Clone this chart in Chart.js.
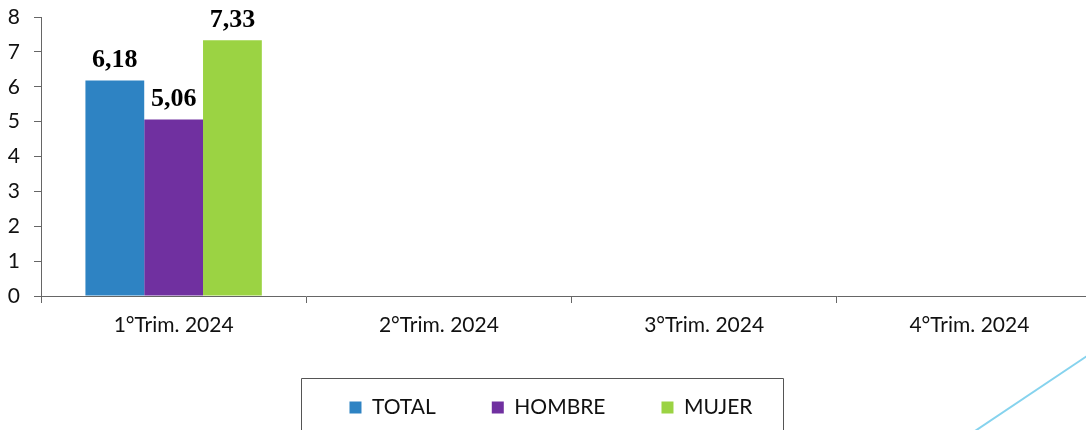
<!DOCTYPE html>
<html>
<head>
<meta charset="utf-8">
<script src="https://cdn.jsdelivr.net/npm/chart.js@4"></script>
<style>
    html, body { margin: 0; padding: 0; background: #fff; overflow: hidden; }
    #wrap { width: 1086px; height: 430px; overflow: hidden; }
</style>
</head>
<body>
<div id="wrap"><canvas id="tasa_chart" width="1102" height="430"></canvas></div>
<script>
// data
const trimestres = ['1°Trim. 2024', '2°Trim. 2024', '3°Trim. 2024', '4°Trim. 2024'];
const total = [6.18, null, null, null];
const hombre = [5.06, null, null, null];
const mujer = [7.33, null, null, null];
const y_ticks = [0, 1, 2, 3, 4, 5, 6, 7, 8];

const base_font = 'Lato, "Open Sans", sans-serif';

// values on top of the bars, comma as decimal mark
const bar_values_plugin = {
    id: 'bar_values',
    afterDatasetsDraw(chart) {
        let ctx = chart.ctx;
        ctx.save();
        ctx.font = 'bold 26px "Liberation Serif", "Times New Roman", serif';
        ctx.fillStyle = '#000';
        ctx.textAlign = 'center';
        ctx.textBaseline = 'bottom';
        chart.data.datasets.forEach(function (ds, i) {
            let meta = chart.getDatasetMeta(i);
            meta.data.forEach(function (bar, j) {
                let v = ds.data[j];
                if (v === null) return;
                ctx.fillText(v.toFixed(2).replace('.', ','), bar.x, bar.y - 7);
            });
        });
        ctx.restore();
    }
};

// frame round the legend + the light blue slide decoration
const frame_plugin = {
    id: 'frame',
    afterDraw(chart) {
        let ctx = chart.ctx;
        let lg = chart.legend;
        ctx.save();
        if (lg && lg.legendHitBoxes.length) {
            let first = lg.legendHitBoxes[0];
            let last = lg.legendHitBoxes[lg.legendHitBoxes.length - 1];
            let x0 = Math.round(first.left - 48);
            let x1 = Math.round(last.left + last.width + 30);
            ctx.strokeStyle = '#555';
            ctx.lineWidth = 1;
            ctx.beginPath();
            ctx.moveTo(x0 + 0.5, 440);
            ctx.lineTo(x0 + 0.5, 378.5);
            ctx.lineTo(x1 + 0.5, 378.5);
            ctx.lineTo(x1 + 0.5, 440);
            ctx.stroke();
        }
        ctx.strokeStyle = '#86d3ee';
        ctx.lineWidth = 2;
        ctx.beginPath();
        ctx.moveTo(975, 431);
        ctx.lineTo(1090, 354);
        ctx.stroke();
        ctx.restore();
    }
};

var tasa_ctx = document.getElementById('tasa_chart').getContext('2d');
var tasa_chart = new Chart(tasa_ctx, {
    type: 'bar',
    data: {
        labels: trimestres,
        datasets: [
            { label: 'TOTAL', data: total, backgroundColor: '#2e83c3' },
            { label: 'HOMBRE', data: hombre, backgroundColor: '#7030a0' },
            { label: 'MUJER', data: mujer, backgroundColor: '#9bd343' },
        ]
    },
    plugins: [bar_values_plugin, frame_plugin],
    options: {
        responsive: false,
        animation: false,
        layout: {
            padding: { top: 17, bottom: 2, left: 0, right: 0 },
        },
        datasets: {
            bar: {
                barPercentage: 1.0,
                categoryPercentage: 0.665,
            }
        },
        scales: {
            x: {
                grid: {
                    display: true,
                    drawOnChartArea: false,
                    tickLength: 7,
                    color: '#666',
                },
                border: { color: '#666', width: 1 },
                ticks: {
                    color: '#111',
                    padding: 10,
                    font: { family: base_font, size: 21 },
                },
                afterFit(scale) { scale.height = 45; },
            },
            y: {
                min: 0,
                max: 8,
                afterBuildTicks(scale) {
                    scale.ticks = y_ticks.map(v => ({ value: v }));
                },
                grid: {
                    display: true,
                    drawOnChartArea: false,
                    tickLength: 7,
                    color: '#666',
                },
                border: { color: '#666', width: 1 },
                ticks: {
                    color: '#111',
                    padding: 14,
                    font: { family: base_font, size: 21, lineHeight: 0.5 },
                },
                afterFit(scale) {
                    scale.width = 41;
                    scale.paddingTop = 0;
                },
            },
        },
        plugins: {
            legend: {
                display: true,
                position: 'bottom',
                labels: {
                    boxWidth: 12,
                    boxHeight: 12,
                    padding: 56,
                    color: '#111',
                    font: { family: base_font, size: 21 },
                },
            },
            tooltip: { enabled: false },
        },
    }
});
</script>
</body>
</html>
